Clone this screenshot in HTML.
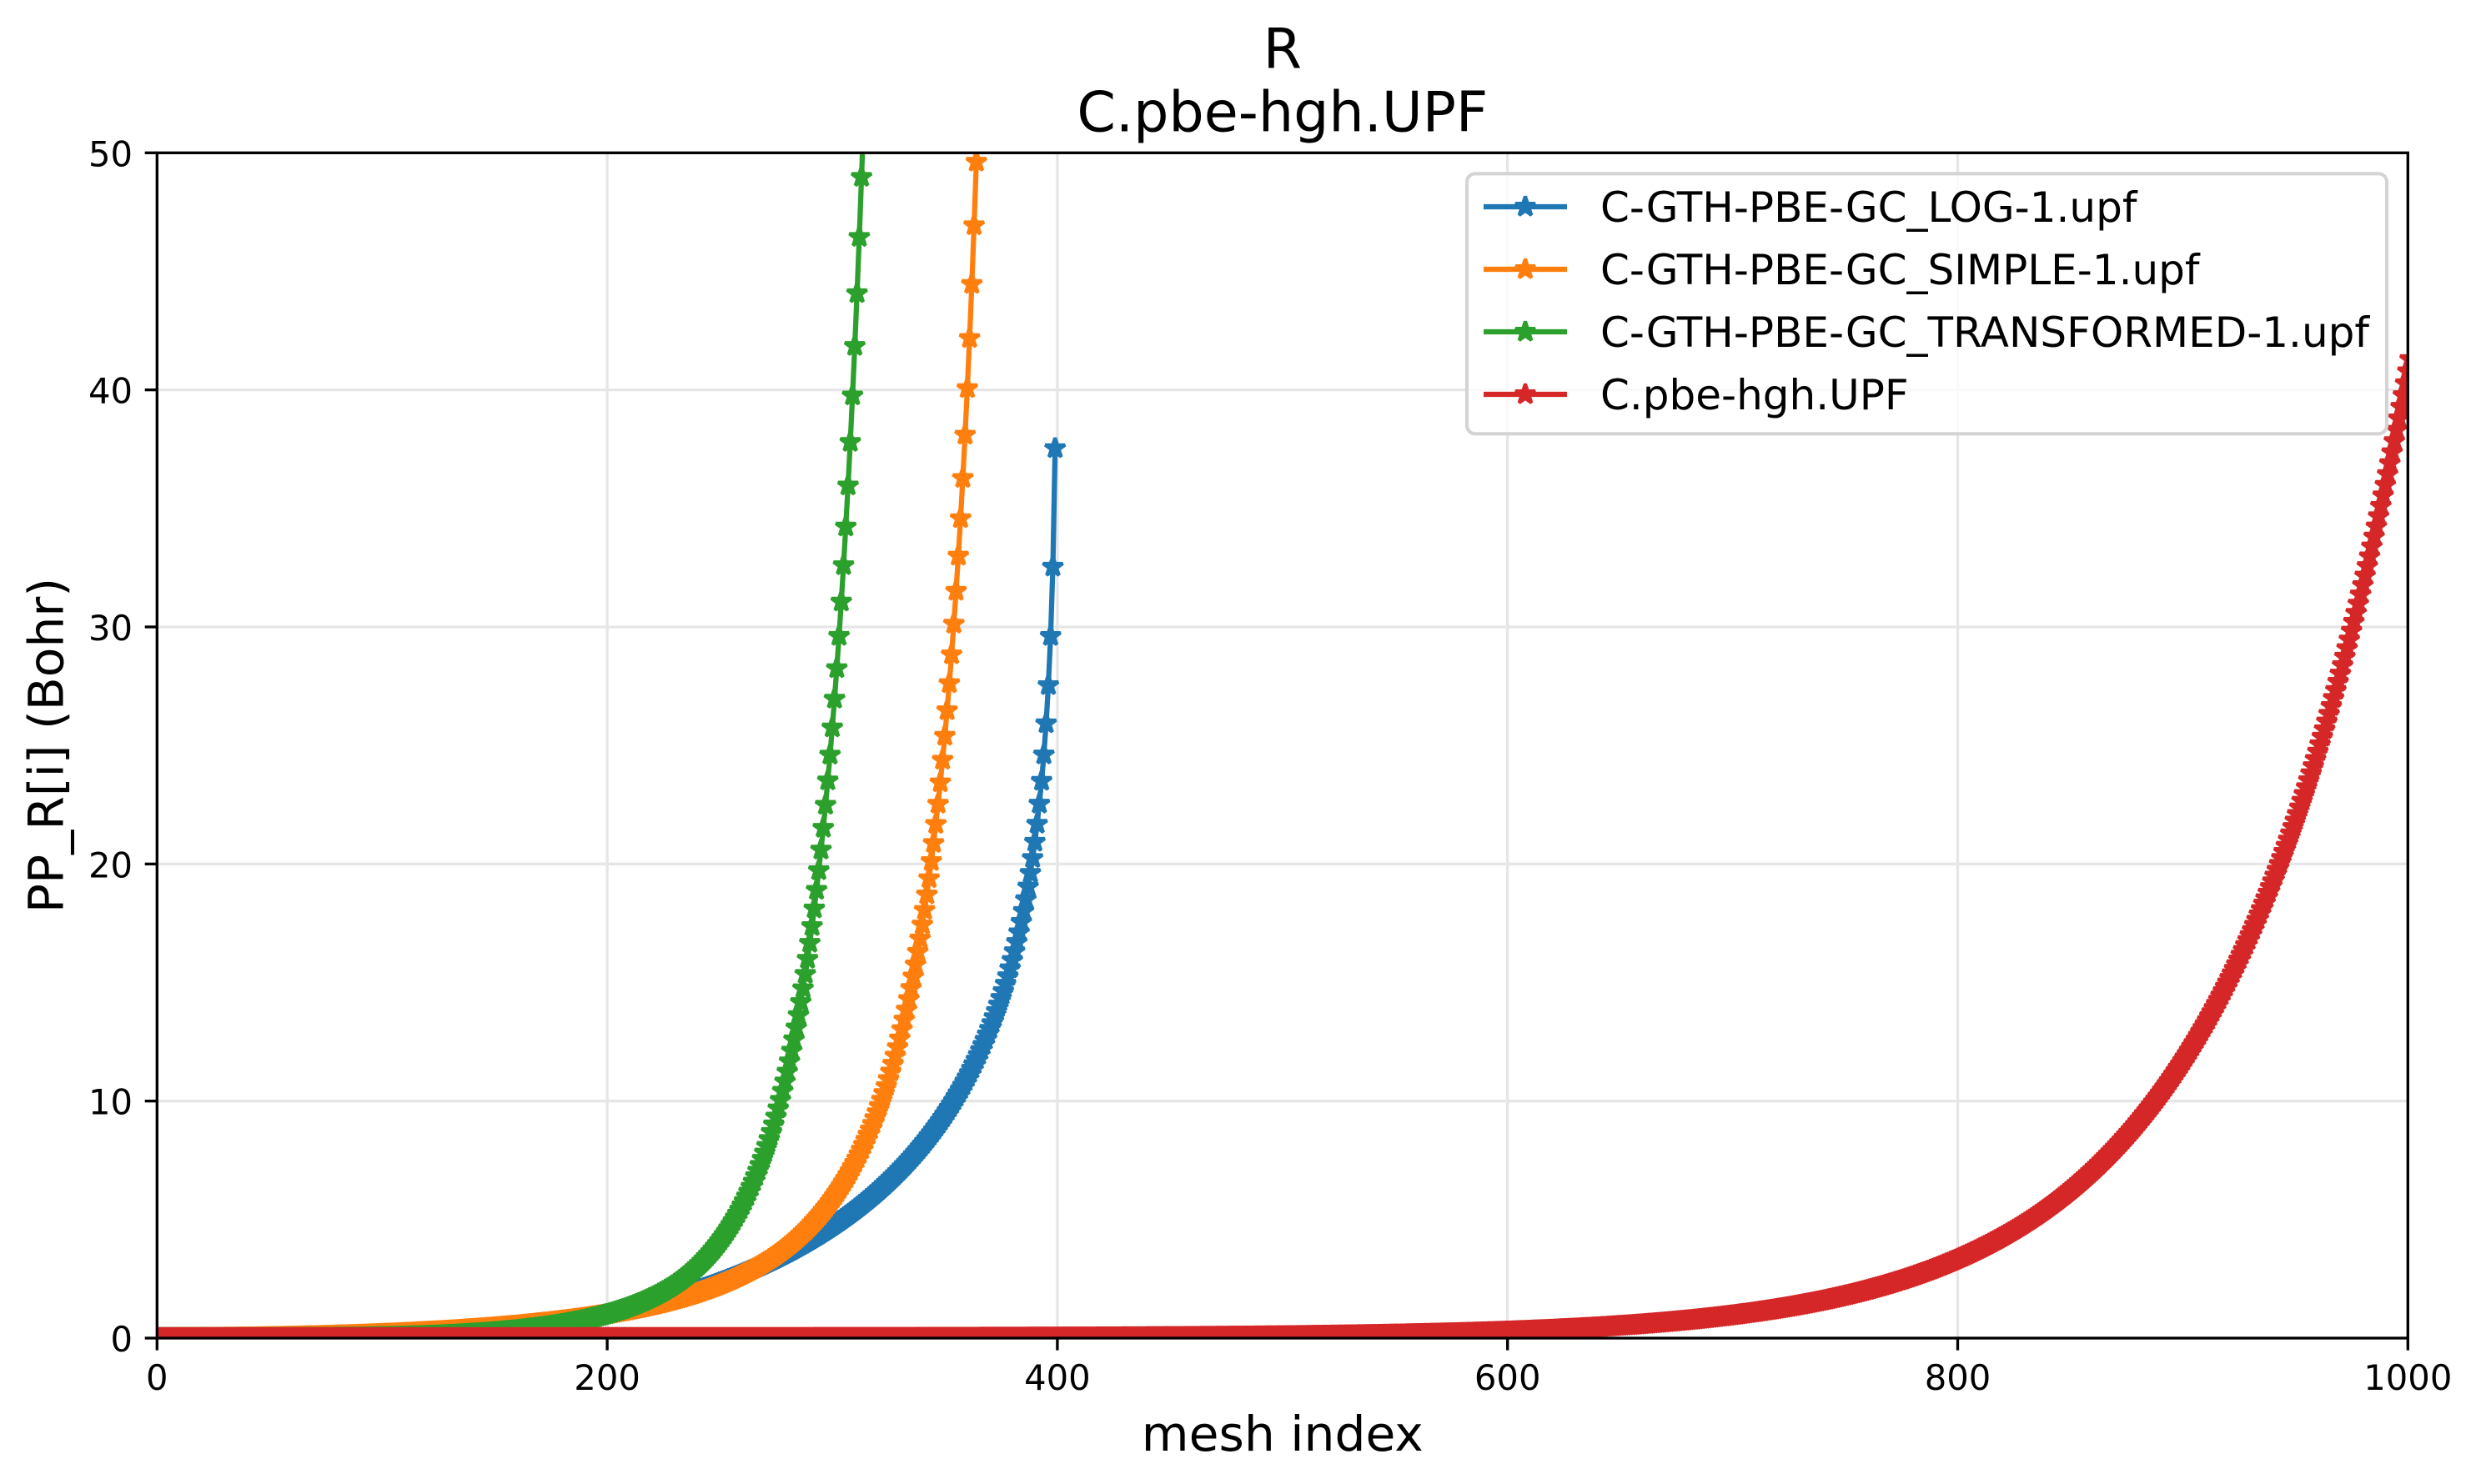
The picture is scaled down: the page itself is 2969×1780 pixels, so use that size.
<!DOCTYPE html>
<html><head><meta charset="utf-8">
<style>
html,body{margin:0;padding:0;background:#fff;}
svg{display:block;font-family:"DejaVu Sans","Liberation Sans",sans-serif;}
</style></head><body>
<svg id="s" width="2969" height="1780" viewBox="0 0 2969 1780" xmlns="http://www.w3.org/2000/svg">
<defs>
<clipPath id="ax"><rect x="188.3" y="183.3" width="2699" height="1421.7"/></clipPath>
<marker id="mb" markerUnits="userSpaceOnUse" markerWidth="40" markerHeight="40" viewBox="-20 -20 40 40" refX="0" refY="0" orient="0" overflow="visible"><path d="M0,-12.5L2.807,-3.863L11.888,-3.863L4.541,1.476L7.347,10.113L0,4.775L-7.347,10.113L-4.541,1.476L-11.888,-3.863L-2.807,-3.863Z" fill="#1f77b4" stroke="#1f77b4" stroke-width="4.17" stroke-linejoin="bevel"/></marker>
<marker id="mo" markerUnits="userSpaceOnUse" markerWidth="40" markerHeight="40" viewBox="-20 -20 40 40" refX="0" refY="0" orient="0" overflow="visible"><path d="M0,-12.5L2.807,-3.863L11.888,-3.863L4.541,1.476L7.347,10.113L0,4.775L-7.347,10.113L-4.541,1.476L-11.888,-3.863L-2.807,-3.863Z" fill="#ff7f0e" stroke="#ff7f0e" stroke-width="4.17" stroke-linejoin="bevel"/></marker>
<marker id="mg" markerUnits="userSpaceOnUse" markerWidth="40" markerHeight="40" viewBox="-20 -20 40 40" refX="0" refY="0" orient="0" overflow="visible"><path d="M0,-12.5L2.807,-3.863L11.888,-3.863L4.541,1.476L7.347,10.113L0,4.775L-7.347,10.113L-4.541,1.476L-11.888,-3.863L-2.807,-3.863Z" fill="#2ca02c" stroke="#2ca02c" stroke-width="4.17" stroke-linejoin="bevel"/></marker>
<marker id="mr" markerUnits="userSpaceOnUse" markerWidth="40" markerHeight="40" viewBox="-20 -20 40 40" refX="0" refY="0" orient="0" overflow="visible"><path d="M0,-12.5L2.807,-3.863L11.888,-3.863L4.541,1.476L7.347,10.113L0,4.775L-7.347,10.113L-4.541,1.476L-11.888,-3.863L-2.807,-3.863Z" fill="#d62728" stroke="#d62728" stroke-width="4.17" stroke-linejoin="bevel"/></marker>
</defs>
<rect width="2969" height="1780" fill="#fff"/>

<!-- grid -->
<g stroke="#e6e6e6" stroke-width="3.33" fill="none">
<line x1="728.1" y1="183.3" x2="728.1" y2="1605"/>
<line x1="1267.9" y1="183.3" x2="1267.9" y2="1605"/>
<line x1="1807.7" y1="183.3" x2="1807.7" y2="1605"/>
<line x1="2347.5" y1="183.3" x2="2347.5" y2="1605"/>
<line x1="188.3" y1="1320.66" x2="2887.3" y2="1320.66"/>
<line x1="188.3" y1="1036.32" x2="2887.3" y2="1036.32"/>
<line x1="188.3" y1="751.98" x2="2887.3" y2="751.98"/>
<line x1="188.3" y1="467.64" x2="2887.3" y2="467.64"/>
</g>

<g id="series" clip-path="url(#ax)"></g>

<!-- spines -->
<rect x="188.3" y="183.3" width="2699" height="1421.7" fill="none" stroke="#000" stroke-width="3.33" stroke-linejoin="miter"/>

<!-- ticks -->
<g stroke="#000" stroke-width="3.33">
<line x1="188.3" y1="1605" x2="188.3" y2="1619.6"/>
<line x1="728.1" y1="1605" x2="728.1" y2="1619.6"/>
<line x1="1267.9" y1="1605" x2="1267.9" y2="1619.6"/>
<line x1="1807.7" y1="1605" x2="1807.7" y2="1619.6"/>
<line x1="2347.5" y1="1605" x2="2347.5" y2="1619.6"/>
<line x1="2887.3" y1="1605" x2="2887.3" y2="1619.6"/>
<line x1="173.7" y1="1605" x2="188.3" y2="1605"/>
<line x1="173.7" y1="1320.66" x2="188.3" y2="1320.66"/>
<line x1="173.7" y1="1036.32" x2="188.3" y2="1036.32"/>
<line x1="173.7" y1="751.98" x2="188.3" y2="751.98"/>
<line x1="173.7" y1="467.64" x2="188.3" y2="467.64"/>
<line x1="173.7" y1="183.3" x2="188.3" y2="183.3"/>
</g>

<!-- tick labels -->
<g font-size="41.7" fill="#000" text-anchor="middle">
<text x="188.3" y="1667">0</text>
<text x="728.1" y="1667">200</text>
<text x="1267.9" y="1667">400</text>
<text x="1807.7" y="1667">600</text>
<text x="2347.5" y="1667">800</text>
<text x="2887.3" y="1667">1000</text>
</g>
<g font-size="41.7" fill="#000" text-anchor="end">
<text x="159" y="1621">0</text>
<text x="159" y="1336.66">10</text>
<text x="159" y="1052.32">20</text>
<text x="159" y="767.98">30</text>
<text x="159" y="483.64">40</text>
<text x="159" y="199.3">50</text>
</g>

<!-- labels -->
<text x="1537.8" y="1740" font-size="58.3" text-anchor="middle" fill="#000">mesh index</text>
<text transform="translate(75.5,894) rotate(-90)" font-size="58.3" text-anchor="middle" fill="#000">PP_R[i] (Bohr)</text>
<text x="1537.8" y="81.7" font-size="66.7" text-anchor="middle" fill="#000">R</text>
<text x="1537.8" y="157.3" font-size="66.7" text-anchor="middle" fill="#000">C.pbe-hgh.UPF</text>

<!-- legend -->
<rect x="1759" y="208.3" width="1103" height="312" rx="10" ry="10" fill="#fff" fill-opacity="0.8" stroke="#d4d4d4" stroke-width="4.17"/>
<g stroke-width="6.25" fill="none">
<polyline points="1779,248 1829,248 1879,248" stroke="#1f77b4" marker-mid="url(#mb)"/>
<polyline points="1779,323 1829,323 1879,323" stroke="#ff7f0e" marker-mid="url(#mo)"/>
<polyline points="1779,398 1829,398 1879,398" stroke="#2ca02c" marker-mid="url(#mg)"/>
<polyline points="1779,473 1829,473 1879,473" stroke="#d62728" marker-mid="url(#mr)"/>
</g>
<g font-size="50" fill="#000">
<text x="1919" y="266">C-GTH-PBE-GC_LOG-1.upf</text>
<text x="1919" y="341">C-GTH-PBE-GC_SIMPLE-1.upf</text>
<text x="1919" y="416">C-GTH-PBE-GC_TRANSFORMED-1.upf</text>
<text x="1919" y="491">C.pbe-hgh.UPF</text>
</g>
</svg>
<script>
(function(){
var NS="http://www.w3.org/2000/svg";
var g=document.getElementById('series');
var X0=188.3,XS=2.699,Y0=1605,YS=28.434;
function omx(k){var t=k*Math.PI/401,s=Math.sin(t),c=Math.cos(t);return 2*k/401-(2/Math.PI)*(1+(2/3)*s*s)*s*c;}
function series(f,n){var pts=[];for(var i=0;i<n;i++){var v=f(i);if(!isFinite(v))break;pts.push((X0+i*XS).toFixed(2)+','+(Y0-v*YS).toFixed(2));if(v>60)break;}return pts.join(' ');}
var defs=[
 ['#1f77b4','mb',function(i){var k=400-i;return Math.log(2/omx(k))/Math.LN2;},400],
 ['#ff7f0e','mo',function(i){var a=Math.tan((i+1)*Math.PI/802);return a*a;},400],
 ['#2ca02c','mg',function(i){var k=400-i,o=omx(k);return (2-o)/o;},400],
 ['#d62728','mr',function(i){return Math.exp(-7+i*0.0125)/6;},1002]
];
for(var d=0;d<defs.length;d++){
 var col=defs[d][0],m=defs[d][1],f=defs[d][2],n=defs[d][3];
 var p=document.createElementNS(NS,'polyline');
 p.setAttribute('points',series(f,n));
 p.setAttribute('fill','none');
 p.setAttribute('stroke',col);
 p.setAttribute('stroke-width','6.25');
 p.setAttribute('stroke-linejoin','round');
 p.setAttribute('marker-start','url(#'+m+')');
 p.setAttribute('marker-mid','url(#'+m+')');
 p.setAttribute('marker-end','url(#'+m+')');
 g.appendChild(p);
}
})();
</script>
</body></html>
